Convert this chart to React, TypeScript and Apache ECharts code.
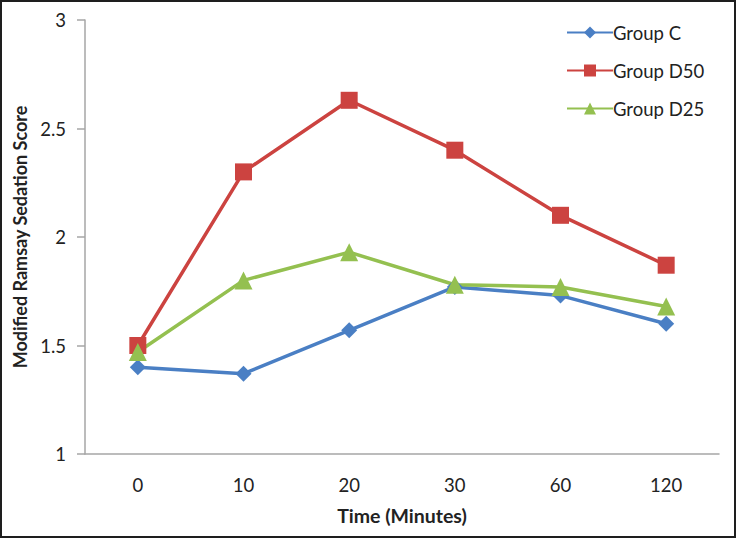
import React, { useEffect, useRef } from "react";
import * as echarts from "echarts";

const categories = ["0", "10", "20", "30", "60", "120"];
const groupC = [1.4, 1.37, 1.57, 1.77, 1.73, 1.6];
const groupD50 = [1.5, 2.3, 2.63, 2.4, 2.1, 1.87];
const groupD25 = [1.47, 1.8, 1.93, 1.78, 1.77, 1.68];
const seriesNames = ["Group C", "Group D50", "Group D25"];
const colors = ["#4a7fc4", "#cc4340", "#94c050"];

export default function App() {
  const ref = useRef<HTMLDivElement>(null);
  useEffect(() => {
    document.body.style.margin = "0";
    const chart = echarts.init(ref.current!, null, { renderer: "svg" });
    const font = "Lato, 'Open Sans', sans-serif";
    const mk = (name: string, data: number[], color: string, symbol: string, size: number) => ({
      name,
      type: "line",
      data,
      symbol,
      symbolSize: size,
      lineStyle: { color, width: 3.5 },
      itemStyle: { color },
      z: 2,
    });
    chart.setOption({
      animation: false,
      backgroundColor: "#ffffff",
      textStyle: { fontFamily: font },
      grid: { left: 85, right: 17, top: 20, bottom: 84 },
      legend: {
        orient: "vertical",
        left: 561,
        top: 18,
        itemWidth: 46,
        itemHeight: 15,
        itemGap: 19,
        data: seriesNames,
        textStyle: { fontSize: 18.5, color: "#222", fontFamily: font, padding: [0, 0, 0, -5] },
      },
      xAxis: {
        type: "category",
        data: categories,
        boundaryGap: true,
        name: "Time (Minutes)",
        nameLocation: "middle",
        nameGap: 51,
        nameTextStyle: { fontSize: 19.5, fontWeight: "bold", color: "#222", fontFamily: font },
        axisLine: { lineStyle: { color: "#a6a6a6", width: 1.5 } },
        axisTick: { show: false },
        axisLabel: { fontSize: 18.5, color: "#222", margin: 21 },
      },
      yAxis: {
        type: "value",
        min: 1,
        max: 3,
        interval: 0.5,
        name: "Modified Ramsay Sedation Score",
        nameLocation: "middle",
        nameGap: 49,
        nameTextStyle: { fontSize: 18, fontWeight: "bold", color: "#222", fontFamily: font },
        axisLine: { show: true, lineStyle: { color: "#a6a6a6", width: 1.5 } },
        axisTick: { show: true, length: 8, lineStyle: { color: "#a6a6a6", width: 1.5 } },
        splitLine: { show: false },
        axisLabel: { fontSize: 18.5, color: "#222", margin: 19 },
      },
      graphic: [
        {
          type: "rect",
          shape: { x: 1, y: 1, width: 734, height: 536 },
          style: { fill: "none", stroke: "#1e1e1e", lineWidth: 2 },
          silent: true,
        },
      ],
      series: [
        mk(seriesNames[0], groupC, colors[0], "diamond", 16),
        mk(seriesNames[1], groupD50, colors[1], "rect", 17),
        mk(seriesNames[2], groupD25, colors[2], "triangle", 18),
      ],
    });
    return () => chart.dispose();
  }, []);
  return (
    <div style={{ position: "absolute", left: 0, top: 0, width: 736, height: 538 }}>
      <div ref={ref} style={{ width: 736, height: 538 }} />
    </div>
  );
}
